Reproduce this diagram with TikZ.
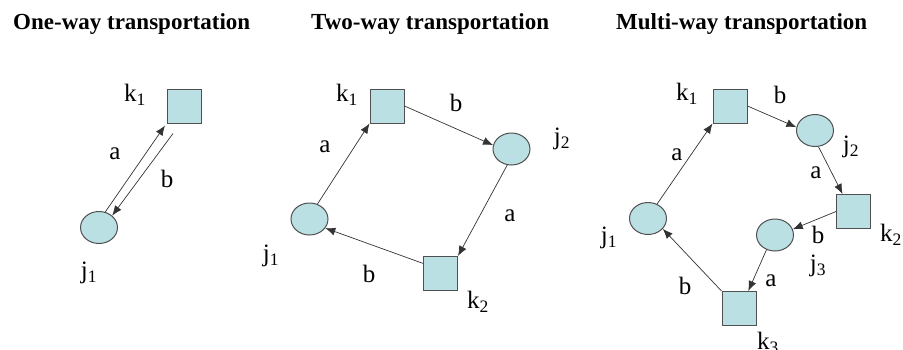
\documentclass[tikz,border=0pt]{standalone}
\usepackage{fontspec}
\setmainfont{Liberation Serif}
\usetikzlibrary{shapes.geometric,arrows.meta}
\definecolor{nodefill}{RGB}{187,224,227}
\definecolor{nodeline}{RGB}{80,80,80}

\begin{document}
\begin{tikzpicture}[x=1pt,y=-1pt,
  store/.style={rectangle,draw=nodeline,fill=nodefill,line width=1pt,minimum size=34pt,inner sep=0pt},
  city/.style={ellipse,draw=nodeline,fill=nodefill,line width=1pt,minimum width=37pt,minimum height=32pt,inner sep=0pt},
  lbl/.style={font=\fontsize{25}{25}\selectfont,inner sep=0pt},
  ttl/.style={font=\fontsize{23}{23}\selectfont\bfseries,inner sep=0pt,anchor=base west},
  arr/.style={-{Latex[length=10pt,width=8pt]},line width=0.7pt,draw=black!80}]
\useasboundingbox (0,0) rectangle (903,349);

% one-way
\node[ttl] (t1) at (13,29) {One-way transportation};
\node[store] (ok1) at (184.5,106) {};
\node[city] (oj1) at (99,227.5) {};
\node[lbl] (lok1) at (135,95) {k\textsubscript{1}};
\node[lbl] (loj1) at (89,273) {j\textsubscript{1}};
\draw[arr] (oj1.68) -- ([xshift=-2pt,yshift=-2pt]ok1.south west);
\draw[arr] ([xshift=6pt,yshift=-10pt]ok1.south west) -- (oj1.42);
\node[lbl] (loa) at (115,154) {a};
\node[lbl] (lob) at (167,179) {b};

% two-way
\node[ttl] (t2) at (311,29) {Two-way transportation};
\node[store] (tk1) at (387,106) {};
\node[city] (tj2) at (511.5,149) {};
\node[city] (tj1) at (309.5,219) {};
\node[store] (tk2) at (440.5,273.5) {};
\node[lbl] (ltk1) at (347,95) {k\textsubscript{1}};
\node[lbl] (ltj2) at (562,139) {j\textsubscript{2}};
\node[lbl] (ltj1) at (271,256) {j\textsubscript{1}};
\node[lbl] (ltk2) at (478,302) {k\textsubscript{2}};
\draw[arr] (tj1.62) -- (tk1.south west);
\draw[arr] (tk1.east) -- (tj2.168);
\draw[arr] (tj2.255) -- (tk2.north east);
\draw[arr] (tk2.150) -- (tj1.-30);
\node[lbl] (lta1) at (325,147) {a};
\node[lbl] (ltb1) at (456,103) {b};
\node[lbl] (lta2) at (510,216) {a};
\node[lbl] (ltb2) at (369,274) {b};

% multi-way
\node[ttl] (t3) at (616,29) {Multi-way transportation};
\node[store] (mk1) at (730,106) {};
\node[city] (mj2) at (815,130.5) {};
\node[store] (mk2) at (853.5,211.5) {};
\node[city] (mj3) at (775,235) {};
\node[city] (mj1) at (648,218.5) {};
\node[store] (mk3) at (739,308.5) {};
\node[lbl] (lmk1) at (687,94) {k\textsubscript{1}};
\node[lbl] (lmj2) at (851,147) {j\textsubscript{2}};
\node[lbl] (lmk2) at (891,235) {k\textsubscript{2}};
\node[lbl] (lmj3) at (818,266) {j\textsubscript{3}};
\node[lbl] (lmj1) at (609,238) {j\textsubscript{1}};
\node[lbl] (lmk3) at (768,343) {k\textsubscript{3}};
\draw[arr] (mj1.58) -- (mk1.south west);
\draw[arr] (mk1.east) -- (mj2.170);
\draw[arr] (mj2.282) -- (mk2.122);
\draw[arr] (mk2.west) -- (mj3.18);
\draw[arr] (mj3.240) -- (mk3.62);
\draw[arr] (mk3.north west) -- (mj1.-35);
\node[lbl] (lma1) at (677,155) {a};
\node[lbl] (lmb1) at (780,95) {b};
\node[lbl] (lma2) at (816,173) {a};
\node[lbl] (lmb2) at (818,235) {b};
\node[lbl] (lma3) at (771,281) {a};
\node[lbl] (lmb3) at (685,286) {b};
\end{tikzpicture}
\end{document}
